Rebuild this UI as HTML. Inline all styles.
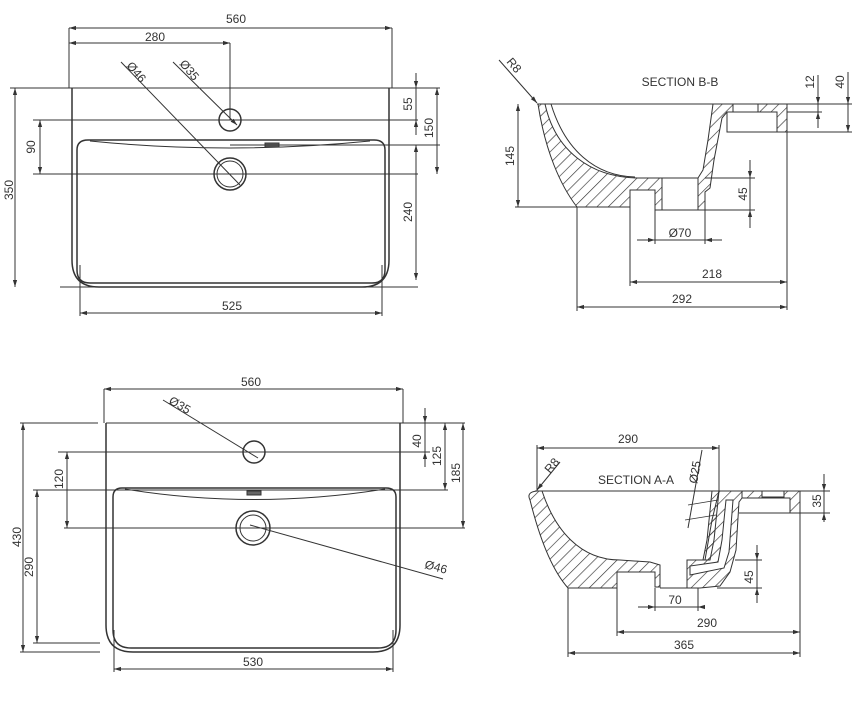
<!DOCTYPE html>
<html><head><meta charset="utf-8"><style>
html,body{margin:0;padding:0;background:#fff;}
svg{display:block;}
text{font-family:"Liberation Sans",sans-serif;font-size:12px;fill:#333;}
</style></head><body>
<svg width="856" height="724" viewBox="0 0 856 724" xmlns="http://www.w3.org/2000/svg">
<defs>
<pattern id="h" width="8" height="8" patternUnits="userSpaceOnUse" patternTransform="rotate(45)">
<line x1="0" y1="0" x2="0" y2="8" stroke="#333" stroke-width="1.3"/>
</pattern>
<marker id="a" viewBox="0 0 10 10" refX="10" refY="5" markerWidth="7" markerHeight="7" orient="auto-start-reverse"><path d="M0,2 L10,5 L0,8 z" fill="#333"/></marker>
</defs>
<g stroke="#333" stroke-width="1" fill="none">
<!-- ========== TOP-LEFT PLAN ========== -->
<line x1="69" y1="28" x2="69" y2="88"/><line x1="392" y1="28" x2="392" y2="88"/>
<line x1="69" y1="28" x2="392" y2="28" marker-start="url(#a)" marker-end="url(#a)"/>
<line x1="69" y1="43" x2="230" y2="43" marker-start="url(#a)" marker-end="url(#a)"/>
<line x1="230" y1="43" x2="230" y2="120"/>
<line x1="10" y1="88" x2="440" y2="88"/>
<path d="M72,88 L72,260 Q72,287 99,287 L362,287 Q389,287 389,260 L389,88" stroke-width="1.5"/>
<path d="M77,150 Q77,140 88,140 L374,140 Q385,140 385,150 L385,270 Q385,283 372,283 L90,283 Q77,283 77,270 Z" stroke-width="1.5"/>
<path d="M90,141 Q230,155 370,141"/>
<rect x="265" y="143" width="14" height="4" fill="#666"/>
<line x1="33" y1="120" x2="418" y2="120"/>
<line x1="33" y1="174" x2="418" y2="174"/>
<line x1="230" y1="145" x2="440" y2="145"/>
<line x1="60" y1="287" x2="418" y2="287"/>
<circle cx="230" cy="120" r="11" stroke-width="1.5"/>
<circle cx="230" cy="174" r="16" stroke-width="1.5"/><circle cx="230" cy="174" r="13"/>
<line x1="121" y1="62" x2="240" y2="185"/>
<line x1="173" y1="62" x2="237" y2="125" marker-end="url(#a)"/>
<line x1="15" y1="88" x2="15" y2="287" marker-start="url(#a)" marker-end="url(#a)"/>
<line x1="40" y1="120" x2="40" y2="174" marker-start="url(#a)" marker-end="url(#a)"/>
<line x1="416" y1="73" x2="416" y2="88" marker-end="url(#a)"/><line x1="416" y1="88" x2="416" y2="120"/><line x1="416" y1="135" x2="416" y2="120" marker-end="url(#a)"/>
<line x1="437" y1="88" x2="437" y2="174" marker-start="url(#a)" marker-end="url(#a)"/>
<line x1="416" y1="145" x2="416" y2="280" marker-start="url(#a)" marker-end="url(#a)"/>
<line x1="80" y1="265" x2="80" y2="316"/><line x1="382" y1="265" x2="382" y2="316"/>
<line x1="80" y1="313" x2="382" y2="313" marker-start="url(#a)" marker-end="url(#a)"/>

<!-- ========== SECTION B-B ========== -->
<line x1="499" y1="60" x2="537" y2="103" marker-end="url(#a)"/>
<line x1="537" y1="104" x2="800" y2="104"/>
<path d="M538,104 C545,150 560,185 577,207 L630,207 L630,190 L655,190 L655,210 L662,210 L662,178 L640,178 C590,178 555,150 545,104 Z" fill="url(#h)"/>
<path d="M551,104 C565,150 595,176 635,177"/>
<path d="M698,178 L698,210 L705,210 L705,192 L710,188 L714,160 L722,118 L727,112 L733,112 L733,104 L713,104 L708,140 L703,170 Z" fill="url(#h)"/>
<path d="M758,104 L787,104 L787,132 L777,132 L777,112 L758,112 Z" fill="url(#h)"/>
<path d="M727,112 L727,132 L777,132"/>
<path d="M733,104 L733,112 L758,112"/>
<line x1="662" y1="178" x2="698" y2="178"/><line x1="662" y1="210" x2="698" y2="210"/>
<line x1="518" y1="104" x2="518" y2="207" marker-start="url(#a)" marker-end="url(#a)"/>
<line x1="515" y1="207" x2="577" y2="207"/>
<line x1="705" y1="178" x2="755" y2="178"/><line x1="705" y1="210" x2="755" y2="210"/>
<line x1="750" y1="160" x2="750" y2="178" marker-end="url(#a)"/><line x1="750" y1="178" x2="750" y2="210"/><line x1="750" y1="228" x2="750" y2="210" marker-end="url(#a)"/>
<line x1="655" y1="210" x2="655" y2="244"/><line x1="705" y1="210" x2="705" y2="244"/>
<line x1="637" y1="240" x2="655" y2="240" marker-end="url(#a)"/><line x1="655" y1="240" x2="705" y2="240"/><line x1="722" y1="240" x2="705" y2="240" marker-end="url(#a)"/>
<line x1="630" y1="207" x2="630" y2="286"/><line x1="787" y1="132" x2="787" y2="310"/>
<line x1="577" y1="207" x2="577" y2="311"/>
<line x1="630" y1="282" x2="787" y2="282" marker-start="url(#a)" marker-end="url(#a)"/>
<line x1="577" y1="307" x2="787" y2="307" marker-start="url(#a)" marker-end="url(#a)"/>
<line x1="787" y1="112" x2="822" y2="112"/><line x1="787" y1="132" x2="852" y2="132"/><line x1="800" y1="104" x2="852" y2="104"/>
<line x1="818" y1="75" x2="818" y2="104" marker-end="url(#a)"/><line x1="818" y1="104" x2="818" y2="112"/><line x1="818" y1="128" x2="818" y2="112" marker-end="url(#a)"/>
<line x1="848" y1="72" x2="848" y2="104" marker-end="url(#a)"/><line x1="848" y1="104" x2="848" y2="132" marker-end="url(#a)"/>

<!-- ========== BOTTOM-LEFT PLAN ========== -->
<line x1="104" y1="389" x2="104" y2="423"/><line x1="403" y1="389" x2="403" y2="423"/>
<line x1="104" y1="389" x2="403" y2="389" marker-start="url(#a)" marker-end="url(#a)"/>
<line x1="20" y1="423" x2="98" y2="423"/><line x1="106" y1="423" x2="465" y2="423"/>
<path d="M106,423 L106,625 Q106,652 133,652 L373,652 Q400,652 400,625 L400,423" stroke-width="1.5"/>
<path d="M113,497 Q113,488 122,488 L386,488 Q396,488 396,497 L396,630 Q396,648 378,648 L131,648 Q113,648 113,630 Z" stroke-width="1.5"/>
<path d="M125,489 Q254,510 385,489"/>
<rect x="247" y="491" width="14" height="4" fill="#666"/>
<line x1="58" y1="452" x2="430" y2="452"/>
<line x1="33" y1="490" x2="448" y2="490"/>
<line x1="64" y1="528" x2="465" y2="528"/>
<line x1="33" y1="643" x2="100" y2="643"/><line x1="20" y1="652" x2="100" y2="652"/>
<circle cx="254" cy="452" r="11" stroke-width="1.5"/>
<circle cx="253" cy="528" r="17" stroke-width="1.5"/><circle cx="253" cy="528" r="13"/>
<line x1="163" y1="400" x2="258" y2="458"/>
<line x1="250" y1="525" x2="443" y2="579"/>
<line x1="23" y1="423" x2="23" y2="652" marker-start="url(#a)" marker-end="url(#a)"/>
<line x1="67" y1="452" x2="67" y2="528" marker-start="url(#a)" marker-end="url(#a)"/>
<line x1="37" y1="490" x2="37" y2="643" marker-start="url(#a)" marker-end="url(#a)"/>
<line x1="425" y1="408" x2="425" y2="423" marker-end="url(#a)"/><line x1="425" y1="423" x2="425" y2="452"/><line x1="425" y1="467" x2="425" y2="452" marker-end="url(#a)"/>
<line x1="445" y1="423" x2="445" y2="490" marker-start="url(#a)" marker-end="url(#a)"/>
<line x1="463" y1="423" x2="463" y2="528" marker-start="url(#a)" marker-end="url(#a)"/>
<line x1="114" y1="630" x2="114" y2="672"/><line x1="393" y1="630" x2="393" y2="672"/>
<line x1="114" y1="669" x2="393" y2="669" marker-start="url(#a)" marker-end="url(#a)"/>

<!-- ========== SECTION A-A ========== -->
<line x1="537" y1="445" x2="537" y2="491"/><line x1="719" y1="445" x2="719" y2="491"/>
<line x1="537" y1="448" x2="719" y2="448" marker-start="url(#a)" marker-end="url(#a)"/>
<line x1="560" y1="462" x2="537" y2="490" marker-end="url(#a)"/>
<line x1="535" y1="491" x2="800" y2="491"/>
<path d="M537,491 Q526,492 530,500 C540,540 552,570 568,588 L617,588 L617,572 L655,572 L655,587 L660,587 L660,565 L650,562 L620,560 C580,560 555,530 542,491 Z" fill="url(#h)"/>
<!-- bowl right wall -->
<path d="M712,491 L719,491 L714,540 L710,560 L703,560 L707,540 Z" fill="url(#h)"/>
<!-- overflow shell -->
<path d="M719,491 L742,491 L742,498 L739,502 L736,550 L730,572 L720,586 L700,588 L687,588 L687,560 L705,560 L712,520 Z" fill="url(#h)"/>
<path d="M726,500 L733,500 L729,552 L724,568 L690,575 L690,566 L718,562 L722,540 Z" fill="#fff"/>
<path d="M742,491 L800,491 L800,513 L790,513 L790,498 L742,498 Z" fill="url(#h)"/>
<rect x="762" y="491" width="22" height="6" fill="#fff"/>
<line x1="739" y1="513" x2="800" y2="513"/>
<line x1="660" y1="588" x2="687" y2="588"/>
<line x1="688" y1="505" x2="718" y2="500" stroke-width="0.8"/><line x1="685" y1="520" x2="716" y2="515" stroke-width="0.8"/>
<line x1="702" y1="450" x2="688" y2="528"/>
<line x1="800" y1="491" x2="830" y2="491"/><line x1="800" y1="513" x2="830" y2="513"/>
<line x1="824" y1="474" x2="824" y2="491" marker-end="url(#a)"/><line x1="824" y1="491" x2="824" y2="513"/><line x1="824" y1="522" x2="824" y2="513" marker-end="url(#a)"/>
<line x1="735" y1="560" x2="762" y2="560"/><line x1="717" y1="588" x2="762" y2="588"/>
<line x1="757" y1="545" x2="757" y2="560" marker-end="url(#a)"/><line x1="757" y1="560" x2="757" y2="588"/><line x1="757" y1="603" x2="757" y2="588" marker-end="url(#a)"/>
<line x1="655" y1="588" x2="655" y2="611"/><line x1="698" y1="588" x2="698" y2="611"/>
<line x1="638" y1="607" x2="655" y2="607" marker-end="url(#a)"/><line x1="655" y1="607" x2="698" y2="607"/><line x1="705" y1="607" x2="698" y2="607" marker-end="url(#a)"/>
<line x1="617" y1="588" x2="617" y2="636"/><line x1="800" y1="513" x2="800" y2="657"/><line x1="568" y1="588" x2="568" y2="657"/>
<line x1="617" y1="632" x2="800" y2="632" marker-start="url(#a)" marker-end="url(#a)"/>
<line x1="568" y1="653" x2="800" y2="653" marker-start="url(#a)" marker-end="url(#a)"/>
</g>
<!-- text -->
<text x="236" y="23" text-anchor="middle">560</text>
<text x="155" y="41" text-anchor="middle">280</text>
<text transform="translate(126,66) rotate(50)">Ø46</text>
<text transform="translate(179,64) rotate(50)">Ø35</text>
<text transform="translate(13,190) rotate(-90)" text-anchor="middle">350</text>
<text transform="translate(35,147) rotate(-90)" text-anchor="middle">90</text>
<text transform="translate(412,104) rotate(-90)" text-anchor="middle">55</text>
<text transform="translate(433,128) rotate(-90)" text-anchor="middle">150</text>
<text transform="translate(412,212) rotate(-90)" text-anchor="middle">240</text>
<text x="232" y="310" text-anchor="middle">525</text>

<text transform="translate(506,62) rotate(50)">R8</text>
<text x="680" y="86" text-anchor="middle">SECTION B-B</text>
<text transform="translate(514,156) rotate(-90)" text-anchor="middle">145</text>
<text transform="translate(814,82) rotate(-90)" text-anchor="middle">12</text>
<text transform="translate(844,82) rotate(-90)" text-anchor="middle">40</text>
<text transform="translate(747,194) rotate(-90)" text-anchor="middle">45</text>
<text x="680" y="237" text-anchor="middle">Ø70</text>
<text x="712" y="278" text-anchor="middle">218</text>
<text x="682" y="303" text-anchor="middle">292</text>

<text x="251" y="386" text-anchor="middle">560</text>
<text transform="translate(168,403) rotate(30)">Ø35</text>
<text transform="translate(21,537) rotate(-90)" text-anchor="middle">430</text>
<text transform="translate(63,479) rotate(-90)" text-anchor="middle">120</text>
<text transform="translate(33,567) rotate(-90)" text-anchor="middle">290</text>
<text transform="translate(421,441) rotate(-90)" text-anchor="middle">40</text>
<text transform="translate(441,456) rotate(-90)" text-anchor="middle">125</text>
<text transform="translate(460,473) rotate(-90)" text-anchor="middle">185</text>
<text transform="translate(424,568) rotate(15)">Ø46</text>
<text x="253" y="666" text-anchor="middle">530</text>

<text x="628" y="443" text-anchor="middle">290</text>
<text transform="translate(550,474) rotate(-50)">R8</text>
<text x="636" y="484" text-anchor="middle">SECTION A-A</text>
<text transform="translate(697,484) rotate(-80)">Ø25</text>
<text transform="translate(821,501) rotate(-90)" text-anchor="middle">35</text>
<text transform="translate(753,577) rotate(-90)" text-anchor="middle">45</text>
<text x="675" y="604" text-anchor="middle">70</text>
<text x="707" y="627" text-anchor="middle">290</text>
<text x="684" y="649" text-anchor="middle">365</text>
</svg>
</body></html>
